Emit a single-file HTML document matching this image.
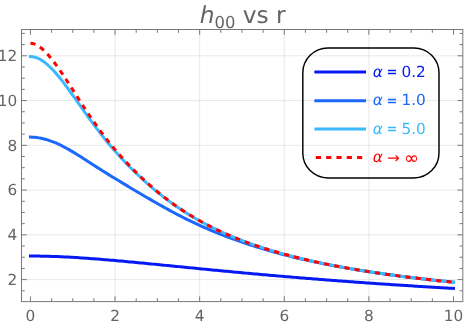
<!DOCTYPE html>
<html><head><meta charset="utf-8"><title>h00 vs r</title>
<style>html,body{margin:0;padding:0;background:#fff;overflow:hidden}svg{display:block;text-rendering:geometricPrecision;will-change:transform}</style></head>
<body>
<svg width="476" height="328" viewBox="0 0 476 328">
<rect width="476" height="328" fill="#fff"/>
<path d="M115.06,29.50 V301.60 M199.67,29.50 V301.60 M284.28,29.50 V301.60 M368.89,29.50 V301.60" stroke="#000" stroke-opacity="0.09" stroke-width="1" fill="none"/>
<path d="M21.50,279.60 H462.80 M21.50,234.84 H462.80 M21.50,190.08 H462.80 M21.50,145.32 H462.80 M21.50,100.56 H462.80 M21.50,55.80 H462.80" stroke="#000" stroke-opacity="0.09" stroke-width="1" fill="none"/>
<g fill="none" stroke-width="3.00" stroke-linejoin="round" stroke-linecap="square">
<path d="M30.45,256.05 L32.57,256.05 L34.68,256.06 L36.80,256.08 L38.91,256.10 L41.03,256.14 L43.14,256.17 L45.26,256.22 L47.37,256.27 L49.49,256.33 L51.60,256.39 L53.72,256.46 L55.83,256.54 L57.95,256.62 L60.06,256.71 L62.18,256.81 L64.29,256.91 L66.41,257.01 L68.52,257.12 L70.64,257.24 L72.75,257.36 L74.87,257.48 L76.99,257.61 L79.10,257.75 L81.22,257.88 L83.33,258.03 L85.45,258.17 L87.56,258.32 L89.68,258.47 L91.79,258.63 L93.91,258.79 L96.02,258.95 L98.14,259.12 L100.25,259.29 L102.37,259.46 L104.48,259.63 L106.60,259.81 L108.71,259.99 L110.83,260.17 L112.94,260.36 L115.06,260.54 L117.18,260.73 L119.29,260.92 L121.41,261.11 L123.52,261.30 L125.64,261.50 L127.75,261.69 L129.87,261.89 L131.98,262.09 L134.10,262.29 L136.21,262.49 L138.33,262.69 L140.44,262.89 L142.56,263.10 L144.67,263.30 L146.79,263.51 L148.90,263.71 L151.02,263.92 L153.13,264.12 L155.25,264.33 L157.36,264.54 L159.48,264.75 L161.60,264.95 L163.71,265.16 L165.83,265.37 L167.94,265.58 L170.06,265.79 L172.17,266.00 L174.29,266.21 L176.40,266.42 L178.52,266.63 L180.63,266.83 L182.75,267.04 L184.86,267.25 L186.98,267.46 L189.09,267.67 L191.21,267.88 L193.32,268.08 L195.44,268.29 L197.55,268.50 L199.67,268.70 L201.79,268.91 L203.90,269.12 L206.02,269.32 L208.13,269.53 L210.25,269.73 L212.36,269.94 L214.48,270.14 L216.59,270.34 L218.71,270.54 L220.82,270.75 L222.94,270.95 L225.05,271.15 L227.17,271.35 L229.28,271.55 L231.40,271.74 L233.51,271.94 L235.63,272.14 L237.74,272.34 L239.86,272.53 L241.97,272.73 L244.09,272.92 L246.21,273.12 L248.32,273.31 L250.44,273.50 L252.55,273.69 L254.67,273.89 L256.78,274.08 L258.90,274.26 L261.01,274.45 L263.13,274.64 L265.24,274.83 L267.36,275.02 L269.47,275.20 L271.59,275.39 L273.70,275.57 L275.82,275.75 L277.93,275.94 L280.05,276.12 L282.16,276.30 L284.28,276.48 L286.40,276.66 L288.51,276.84 L290.63,277.02 L292.74,277.19 L294.86,277.37 L296.97,277.54 L299.09,277.72 L301.20,277.89 L303.32,278.07 L305.43,278.24 L307.55,278.41 L309.66,278.58 L311.78,278.75 L313.89,278.92 L316.01,279.09 L318.12,279.25 L320.24,279.42 L322.35,279.59 L324.47,279.75 L326.58,279.92 L328.70,280.08 L330.82,280.24 L332.93,280.40 L335.05,280.57 L337.16,280.73 L339.28,280.89 L341.39,281.04 L343.51,281.20 L345.62,281.36 L347.74,281.52 L349.85,281.67 L351.97,281.83 L354.08,281.98 L356.20,282.13 L358.31,282.29 L360.43,282.44 L362.54,282.59 L364.66,282.74 L366.77,282.89 L368.89,283.04 L371.01,283.19 L373.12,283.33 L375.24,283.48 L377.35,283.63 L379.47,283.77 L381.58,283.92 L383.70,284.06 L385.81,284.20 L387.93,284.35 L390.04,284.49 L392.16,284.63 L394.27,284.77 L396.39,284.91 L398.50,285.05 L400.62,285.18 L402.73,285.32 L404.85,285.46 L406.96,285.59 L409.08,285.73 L411.19,285.86 L413.31,286.00 L415.43,286.13 L417.54,286.26 L419.66,286.40 L421.77,286.53 L423.89,286.66 L426.00,286.79 L428.12,286.92 L430.23,287.05 L432.35,287.17 L434.46,287.30 L436.58,287.43 L438.69,287.55 L440.81,287.68 L442.92,287.80 L445.04,287.93 L447.15,288.05 L449.27,288.17 L451.38,288.30 L453.50,288.42" stroke="#0519f4"/>
<path d="M30.45,137.12 L32.57,137.19 L34.68,137.34 L36.80,137.57 L38.91,137.88 L41.03,138.26 L43.14,138.73 L45.26,139.26 L47.37,139.87 L49.49,140.55 L51.60,141.30 L53.72,142.11 L55.83,142.99 L57.95,143.92 L60.06,144.92 L62.18,145.96 L64.29,147.06 L66.41,148.20 L68.52,149.38 L70.64,150.59 L72.75,151.84 L74.87,153.12 L76.99,154.42 L79.10,155.75 L81.22,157.09 L83.33,158.44 L85.45,159.80 L87.56,161.16 L89.68,162.53 L91.79,163.90 L93.91,165.26 L96.02,166.62 L98.14,167.98 L100.25,169.33 L102.37,170.67 L104.48,172.00 L106.60,173.32 L108.71,174.63 L110.83,175.94 L112.94,177.24 L115.06,178.53 L117.18,179.81 L119.29,181.09 L121.41,182.36 L123.52,183.63 L125.64,184.90 L127.75,186.16 L129.87,187.42 L131.98,188.68 L134.10,189.94 L136.21,191.19 L138.33,192.44 L140.44,193.69 L142.56,194.94 L144.67,196.18 L146.79,197.42 L148.90,198.65 L151.02,199.88 L153.13,201.10 L155.25,202.32 L157.36,203.53 L159.48,204.73 L161.60,205.92 L163.71,207.10 L165.83,208.27 L167.94,209.43 L170.06,210.58 L172.17,211.72 L174.29,212.84 L176.40,213.96 L178.52,215.06 L180.63,216.15 L182.75,217.22 L184.86,218.29 L186.98,219.34 L189.09,220.37 L191.21,221.40 L193.32,222.41 L195.44,223.40 L197.55,224.39 L199.67,225.36 L201.79,226.31 L203.90,227.26 L206.02,228.19 L208.13,229.11 L210.25,230.01 L212.36,230.91 L214.48,231.79 L216.59,232.66 L218.71,233.51 L220.82,234.36 L222.94,235.19 L225.05,236.01 L227.17,236.82 L229.28,237.61 L231.40,238.40 L233.51,239.18 L235.63,239.94 L237.74,240.69 L239.86,241.43 L241.97,242.17 L244.09,242.89 L246.21,243.60 L248.32,244.30 L250.44,244.99 L252.55,245.67 L254.67,246.34 L256.78,247.00 L258.90,247.65 L261.01,248.29 L263.13,248.93 L265.24,249.55 L267.36,250.17 L269.47,250.78 L271.59,251.37 L273.70,251.96 L275.82,252.55 L277.93,253.12 L280.05,253.69 L282.16,254.24 L284.28,254.79 L286.40,255.34 L288.51,255.87 L290.63,256.40 L292.74,256.92 L294.86,257.43 L296.97,257.94 L299.09,258.44 L301.20,258.93 L303.32,259.41 L305.43,259.89 L307.55,260.37 L309.66,260.83 L311.78,261.29 L313.89,261.75 L316.01,262.20 L318.12,262.64 L320.24,263.07 L322.35,263.51 L324.47,263.93 L326.58,264.35 L328.70,264.76 L330.82,265.17 L332.93,265.58 L335.05,265.97 L337.16,266.37 L339.28,266.76 L341.39,267.14 L343.51,267.52 L345.62,267.89 L347.74,268.26 L349.85,268.63 L351.97,268.99 L354.08,269.34 L356.20,269.69 L358.31,270.04 L360.43,270.38 L362.54,270.72 L364.66,271.06 L366.77,271.39 L368.89,271.72 L371.01,272.04 L373.12,272.36 L375.24,272.67 L377.35,272.99 L379.47,273.29 L381.58,273.60 L383.70,273.90 L385.81,274.20 L387.93,274.49 L390.04,274.78 L392.16,275.07 L394.27,275.35 L396.39,275.63 L398.50,275.91 L400.62,276.19 L402.73,276.46 L404.85,276.73 L406.96,276.99 L409.08,277.26 L411.19,277.52 L413.31,277.78 L415.43,278.03 L417.54,278.28 L419.66,278.53 L421.77,278.78 L423.89,279.02 L426.00,279.26 L428.12,279.50 L430.23,279.74 L432.35,279.97 L434.46,280.20 L436.58,280.43 L438.69,280.66 L440.81,280.88 L442.92,281.11 L445.04,281.33 L447.15,281.54 L449.27,281.76 L451.38,281.97 L453.50,282.19" stroke="#1a68fc"/>
<path d="M30.45,56.58 L32.57,56.74 L34.68,57.16 L36.80,57.83 L38.91,58.74 L41.03,59.89 L43.14,61.25 L45.26,62.81 L47.37,64.56 L49.49,66.49 L51.60,68.58 L53.72,70.81 L55.83,73.18 L57.95,75.66 L60.06,78.25 L62.18,80.92 L64.29,83.68 L66.41,86.50 L68.52,89.38 L70.64,92.30 L72.75,95.26 L74.87,98.24 L76.99,101.23 L79.10,104.23 L81.22,107.23 L83.33,110.23 L85.45,113.20 L87.56,116.16 L89.68,119.09 L91.79,121.99 L93.91,124.85 L96.02,127.68 L98.14,130.46 L100.25,133.20 L102.37,135.90 L104.48,138.55 L106.60,141.16 L108.71,143.72 L110.83,146.24 L112.94,148.71 L115.06,151.13 L117.18,153.52 L119.29,155.86 L121.41,158.16 L123.52,160.43 L125.64,162.65 L127.75,164.84 L129.87,166.99 L131.98,169.11 L134.10,171.20 L136.21,173.25 L138.33,175.27 L140.44,177.26 L142.56,179.21 L144.67,181.14 L146.79,183.03 L148.90,184.90 L151.02,186.73 L153.13,188.53 L155.25,190.31 L157.36,192.05 L159.48,193.76 L161.60,195.44 L163.71,197.10 L165.83,198.72 L167.94,200.31 L170.06,201.87 L172.17,203.41 L174.29,204.92 L176.40,206.39 L178.52,207.84 L180.63,209.26 L182.75,210.66 L184.86,212.02 L186.98,213.36 L189.09,214.68 L191.21,215.97 L193.32,217.23 L195.44,218.47 L197.55,219.68 L199.67,220.87 L201.79,222.04 L203.90,223.19 L206.02,224.31 L208.13,225.41 L210.25,226.50 L212.36,227.56 L214.48,228.60 L216.59,229.62 L218.71,230.62 L220.82,231.60 L222.94,232.57 L225.05,233.51 L227.17,234.44 L229.28,235.35 L231.40,236.25 L233.51,237.13 L235.63,237.99 L237.74,238.84 L239.86,239.67 L241.97,240.48 L244.09,241.29 L246.21,242.07 L248.32,242.85 L250.44,243.61 L252.55,244.36 L254.67,245.09 L256.78,245.81 L258.90,246.52 L261.01,247.22 L263.13,247.91 L265.24,248.58 L267.36,249.25 L269.47,249.90 L271.59,250.54 L273.70,251.17 L275.82,251.79 L277.93,252.40 L280.05,253.00 L282.16,253.59 L284.28,254.18 L286.40,254.75 L288.51,255.31 L290.63,255.87 L292.74,256.41 L294.86,256.95 L296.97,257.48 L299.09,258.00 L301.20,258.52 L303.32,259.02 L305.43,259.52 L307.55,260.01 L309.66,260.50 L311.78,260.98 L313.89,261.45 L316.01,261.91 L318.12,262.37 L320.24,262.82 L322.35,263.26 L324.47,263.70 L326.58,264.13 L328.70,264.55 L330.82,264.97 L332.93,265.39 L335.05,265.79 L337.16,266.20 L339.28,266.59 L341.39,266.99 L343.51,267.37 L345.62,267.75 L347.74,268.13 L349.85,268.50 L351.97,268.87 L354.08,269.23 L356.20,269.59 L358.31,269.94 L360.43,270.29 L362.54,270.63 L364.66,270.97 L366.77,271.31 L368.89,271.64 L371.01,271.96 L373.12,272.29 L375.24,272.61 L377.35,272.92 L379.47,273.23 L381.58,273.54 L383.70,273.84 L385.81,274.14 L387.93,274.44 L390.04,274.73 L392.16,275.02 L394.27,275.31 L396.39,275.59 L398.50,275.87 L400.62,276.15 L402.73,276.42 L404.85,276.70 L406.96,276.96 L409.08,277.23 L411.19,277.49 L413.31,277.75 L415.43,278.00 L417.54,278.26 L419.66,278.51 L421.77,278.76 L423.89,279.00 L426.00,279.24 L428.12,279.48 L430.23,279.72 L432.35,279.96 L434.46,280.19 L436.58,280.42 L438.69,280.65 L440.81,280.87 L442.92,281.09 L445.04,281.31 L447.15,281.53 L449.27,281.75 L451.38,281.96 L453.50,282.18" stroke="#3cb8ff"/>
<path d="M30.45,43.29 L32.57,43.53 L34.68,44.14 L36.80,45.11 L38.91,46.38 L41.03,47.94 L43.14,49.74 L45.26,51.78 L47.37,54.01 L49.49,56.43 L51.60,59.00 L53.72,61.71 L55.83,64.54 L57.95,67.48 L60.06,70.51 L62.18,73.61 L64.29,76.78 L66.41,79.99 L68.52,83.24 L70.64,86.52 L72.75,89.81 L74.87,93.11 L76.99,96.41 L79.10,99.70 L81.22,102.97 L83.33,106.22 L85.45,109.44 L87.56,112.63 L89.68,115.77 L91.79,118.88 L93.91,121.93 L96.02,124.94 L98.14,127.89 L100.25,130.79 L102.37,133.64 L104.48,136.44 L106.60,139.17 L108.71,141.86 L110.83,144.49 L112.94,147.07 L115.06,149.60 L117.18,152.08 L119.29,154.52 L121.41,156.90 L123.52,159.25 L125.64,161.55 L127.75,163.81 L129.87,166.02 L131.98,168.20 L134.10,170.35 L136.21,172.45 L138.33,174.52 L140.44,176.56 L142.56,178.56 L144.67,180.53 L146.79,182.46 L148.90,184.36 L151.02,186.23 L153.13,188.06 L155.25,189.87 L157.36,191.64 L159.48,193.37 L161.60,195.08 L163.71,196.76 L165.83,198.40 L167.94,200.01 L170.06,201.60 L172.17,203.15 L174.29,204.67 L176.40,206.16 L178.52,207.63 L180.63,209.06 L182.75,210.47 L184.86,211.85 L186.98,213.20 L189.09,214.52 L191.21,215.82 L193.32,217.10 L195.44,218.34 L197.55,219.57 L199.67,220.76 L201.79,221.94 L203.90,223.09 L206.02,224.22 L208.13,225.33 L210.25,226.42 L212.36,227.48 L214.48,228.53 L216.59,229.55 L218.71,230.56 L220.82,231.54 L222.94,232.51 L225.05,233.46 L227.17,234.39 L229.28,235.31 L231.40,236.21 L233.51,237.09 L235.63,237.95 L237.74,238.80 L239.86,239.64 L241.97,240.45 L244.09,241.26 L246.21,242.05 L248.32,242.83 L250.44,243.59 L252.55,244.34 L254.67,245.07 L256.78,245.80 L258.90,246.51 L261.01,247.21 L263.13,247.89 L265.24,248.57 L267.36,249.23 L269.47,249.89 L271.59,250.53 L273.70,251.16 L275.82,251.78 L277.93,252.39 L280.05,252.99 L282.16,253.59 L284.28,254.17 L286.40,254.74 L288.51,255.31 L290.63,255.86 L292.74,256.41 L294.86,256.95 L296.97,257.48 L299.09,258.00 L301.20,258.51 L303.32,259.02 L305.43,259.52 L307.55,260.01 L309.66,260.49 L311.78,260.97 L313.89,261.44 L316.01,261.91 L318.12,262.36 L320.24,262.81 L322.35,263.26 L324.47,263.69 L326.58,264.13 L328.70,264.55 L330.82,264.97 L332.93,265.38 L335.05,265.79 L337.16,266.19 L339.28,266.59 L341.39,266.98 L343.51,267.37 L345.62,267.75 L347.74,268.13 L349.85,268.50 L351.97,268.87 L354.08,269.23 L356.20,269.59 L358.31,269.94 L360.43,270.29 L362.54,270.63 L364.66,270.97 L366.77,271.31 L368.89,271.64 L371.01,271.96 L373.12,272.29 L375.24,272.61 L377.35,272.92 L379.47,273.23 L381.58,273.54 L383.70,273.84 L385.81,274.14 L387.93,274.44 L390.04,274.73 L392.16,275.02 L394.27,275.31 L396.39,275.59 L398.50,275.87 L400.62,276.15 L402.73,276.42 L404.85,276.70 L406.96,276.96 L409.08,277.23 L411.19,277.49 L413.31,277.75 L415.43,278.00 L417.54,278.26 L419.66,278.51 L421.77,278.76 L423.89,279.00 L426.00,279.24 L428.12,279.48 L430.23,279.72 L432.35,279.96 L434.46,280.19 L436.58,280.42 L438.69,280.65 L440.81,280.87 L442.92,281.09 L445.04,281.31 L447.15,281.53 L449.27,281.75 L451.38,281.96 L453.50,282.18" stroke="#ff0000" stroke-dasharray="5.15 5.15" stroke-linecap="butt"/>
</g>
<path d="M30.45,301.60 v-5.30 M30.45,29.50 v5.30 M51.60,301.60 v-3.30 M51.60,29.50 v3.30 M72.75,301.60 v-3.30 M72.75,29.50 v3.30 M93.91,301.60 v-3.30 M93.91,29.50 v3.30 M115.06,301.60 v-5.30 M115.06,29.50 v5.30 M136.21,301.60 v-3.30 M136.21,29.50 v3.30 M157.36,301.60 v-3.30 M157.36,29.50 v3.30 M178.52,301.60 v-3.30 M178.52,29.50 v3.30 M199.67,301.60 v-5.30 M199.67,29.50 v5.30 M220.82,301.60 v-3.30 M220.82,29.50 v3.30 M241.97,301.60 v-3.30 M241.97,29.50 v3.30 M263.13,301.60 v-3.30 M263.13,29.50 v3.30 M284.28,301.60 v-5.30 M284.28,29.50 v5.30 M305.43,301.60 v-3.30 M305.43,29.50 v3.30 M326.58,301.60 v-3.30 M326.58,29.50 v3.30 M347.74,301.60 v-3.30 M347.74,29.50 v3.30 M368.89,301.60 v-5.30 M368.89,29.50 v5.30 M390.04,301.60 v-3.30 M390.04,29.50 v3.30 M411.19,301.60 v-3.30 M411.19,29.50 v3.30 M432.35,301.60 v-3.30 M432.35,29.50 v3.30 M453.50,301.60 v-5.30 M453.50,29.50 v5.30 M21.50,290.79 h3.30 M462.80,290.79 h-3.30 M21.50,279.60 h5.30 M462.80,279.60 h-5.30 M21.50,268.41 h3.30 M462.80,268.41 h-3.30 M21.50,257.22 h3.30 M462.80,257.22 h-3.30 M21.50,246.03 h3.30 M462.80,246.03 h-3.30 M21.50,234.84 h5.30 M462.80,234.84 h-5.30 M21.50,223.65 h3.30 M462.80,223.65 h-3.30 M21.50,212.46 h3.30 M462.80,212.46 h-3.30 M21.50,201.27 h3.30 M462.80,201.27 h-3.30 M21.50,190.08 h5.30 M462.80,190.08 h-5.30 M21.50,178.89 h3.30 M462.80,178.89 h-3.30 M21.50,167.70 h3.30 M462.80,167.70 h-3.30 M21.50,156.51 h3.30 M462.80,156.51 h-3.30 M21.50,145.32 h5.30 M462.80,145.32 h-5.30 M21.50,134.13 h3.30 M462.80,134.13 h-3.30 M21.50,122.94 h3.30 M462.80,122.94 h-3.30 M21.50,111.75 h3.30 M462.80,111.75 h-3.30 M21.50,100.56 h5.30 M462.80,100.56 h-5.30 M21.50,89.37 h3.30 M462.80,89.37 h-3.30 M21.50,78.18 h3.30 M462.80,78.18 h-3.30 M21.50,66.99 h3.30 M462.80,66.99 h-3.30 M21.50,55.80 h5.30 M462.80,55.80 h-5.30 M21.50,44.61 h3.30 M462.80,44.61 h-3.30 M21.50,33.42 h3.30 M462.80,33.42 h-3.30" stroke="#787878" stroke-width="1" fill="none"/>
<rect x="21.50" y="29.50" width="441.30" height="272.10" fill="none" stroke="#787878" stroke-width="1"/>
<g font-family="'DejaVu Sans','Liberation Sans',sans-serif" font-size="15.30" fill="#646464">
<text x="30.45" y="320.50" text-anchor="middle">0</text>
<text x="115.06" y="320.50" text-anchor="middle">2</text>
<text x="199.67" y="320.50" text-anchor="middle">4</text>
<text x="284.28" y="320.50" text-anchor="middle">6</text>
<text x="368.89" y="320.50" text-anchor="middle">8</text>
<text x="453.50" y="320.50" text-anchor="middle">10</text>
<text x="17.30" y="284.90" text-anchor="end">2</text>
<text x="17.30" y="240.14" text-anchor="end">4</text>
<text x="17.30" y="195.38" text-anchor="end">6</text>
<text x="17.30" y="150.62" text-anchor="end">8</text>
<text x="17.30" y="105.86" text-anchor="end">10</text>
<text x="17.30" y="61.10" text-anchor="end">12</text>
</g>
<text x="199.7" y="23.2" font-family="'DejaVu Sans','Liberation Sans',sans-serif" font-size="23.3" fill="#646464"><tspan font-style="italic">h</tspan><tspan font-size="16.4" dy="4.7">00</tspan><tspan dy="-4.7"> vs r</tspan></text>
<rect x="302.8" y="47.9" width="136.2" height="130.0" rx="25" ry="25" fill="none" stroke="#000" stroke-width="1.45"/>
<g font-family="'DejaVu Sans','Liberation Sans',sans-serif" font-size="15.30">
<path d="M315.85,72.05 H364.55" stroke="#0519f4" stroke-width="3.00" fill="none" stroke-linecap="square"/>
<text y="76.65" fill="#0519f4"><tspan x="372.7" font-style="italic">α</tspan><tspan x="386.4" dy="-0.2" font-size="13" font-weight="bold">=</tspan><tspan x="401.5" dy="0.2">0.2</tspan></text>
<path d="M315.85,100.65 H364.55" stroke="#1a68fc" stroke-width="3.00" fill="none" stroke-linecap="square"/>
<text y="105.25" fill="#1a68fc"><tspan x="372.7" font-style="italic">α</tspan><tspan x="386.4" dy="-0.2" font-size="13" font-weight="bold">=</tspan><tspan x="401.5" dy="0.2">1.0</tspan></text>
<path d="M315.85,129.05 H364.55" stroke="#3cb8ff" stroke-width="3.00" fill="none" stroke-linecap="square"/>
<text y="133.65" fill="#3cb8ff"><tspan x="372.7" font-style="italic">α</tspan><tspan x="386.4" dy="-0.2" font-size="13" font-weight="bold">=</tspan><tspan x="401.5" dy="0.2">5.0</tspan></text>
<path d="M315.85,157.50 H364.55" stroke="#ff0000" stroke-width="3.00" fill="none" stroke-dasharray="5.15 5.15"/>
<text y="162.10" fill="#ff0000"><tspan x="372.7" font-style="italic">α</tspan><tspan x="387.0" dy="0.6">→</tspan><tspan x="403.9" dy="1.0" font-size="18">∞</tspan></text>
</g>
</svg>
</body></html>
